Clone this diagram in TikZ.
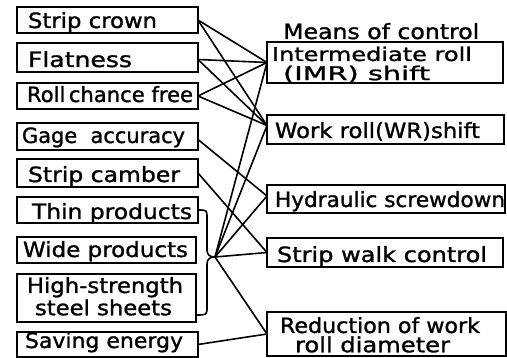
\documentclass[tikz,border=0pt]{standalone}
\usepackage{fontspec}
\setmainfont{DejaVu Sans}[FakeBold=1.2]
\usepackage{graphicx}
\newcommand{\fw}[2]{\resizebox{#1}{\height}{#2}}
\begin{document}
\begin{tikzpicture}[x=1pt,y=-1pt,
  box/.style={draw, line width=1.6pt, inner sep=0pt, outer sep=0pt, anchor=north west,
    font=\fontsize{21}{21}\selectfont},
  link/.style={line width=1.6pt, line join=round, line cap=round}]
\useasboundingbox (0,0) rectangle (507,358);
% left column: product targets
\node[box, minimum width=181pt, minimum height=26pt, text height=21pt, text depth=5pt] (crown) at (17,7)
  {\makebox[181pt][l]{\hspace{11pt}\fw{129pt}{Strip crown}}};
\node[box, minimum width=181pt, minimum height=29pt, text height=24pt, text depth=5pt] (flat) at (17,43)
  {\makebox[181pt][l]{\hspace{11pt}\fw{104pt}{Flatness}}};
\node[box, minimum width=181pt, minimum height=26pt, text height=19pt, text depth=7pt] (roll) at (17,83)
  {\makebox[181pt][l]{\hspace{10pt}\fw{166pt}{Roll\,chance free}}};
\node[box, minimum width=181pt, minimum height=27pt, text height=20pt, text depth=7pt] (gage) at (17,123)
  {\makebox[181pt][l]{\hspace{5pt}\fw{163pt}{Gage\ \ accuracy}}};
\node[box, minimum width=181pt, minimum height=28pt, text height=23pt, text depth=5pt] (camber) at (17,159)
  {\makebox[181pt][l]{\hspace{11pt}\fw{152pt}{Strip camber}}};
\node[box, minimum width=181pt, minimum height=26pt, text height=22pt, text depth=4pt] (thin) at (17,197)
  {\makebox[181pt][l]{\hspace{15pt}\fw{160pt}{Thin products}}};
\node[box, minimum width=179pt, minimum height=26pt, text height=20pt, text depth=6pt] (wide) at (17,237)
  {\makebox[179pt][l]{\hspace{6pt}\fw{165pt}{Wide products}}};
\node[box, minimum width=179pt, minimum height=48pt, text height=19pt, text depth=29pt] (high) at (17,274)
  {\makebox[179pt][l]{\hspace{10pt}\begin{tabular}[t]{@{}l@{}}\fw{156pt}{High-strength}\\[0pt]\hspace{8pt}\fw{137pt}{steel sheets}\end{tabular}}};
\node[box, minimum width=181pt, minimum height=25pt, text height=16pt, text depth=9pt] (save) at (17,332)
  {\makebox[181pt][l]{\hspace{8pt}\fw{158pt}{Saving energy}}};
% right column: means of control
\node[anchor=base west, inner sep=0pt, font=\fontsize{21}{21}\selectfont] (means) at (283,39)
  {\fw{196pt}{Means of control}};
\node[box, minimum width=236pt, minimum height=41pt, text height=19pt, text depth=22pt,
      font=\fontsize{19}{19}\selectfont] (imr) at (267,42)
  {\makebox[236pt][l]{\hspace{5pt}\begin{tabular}[t]{@{}l@{}}\fw{200pt}{Intermediate roll}\\[-1pt]\hspace{11pt}\fw{147pt}{(IMR) shift}\end{tabular}}};
\node[box, minimum width=237pt, minimum height=29pt, text height=23pt, text depth=6pt] (wr) at (267,115)
  {\makebox[237pt][l]{\hspace{8pt}\fw{205pt}{Work roll(WR)shift}}};
\node[box, minimum width=238pt, minimum height=28pt, text height=22pt, text depth=6pt] (hyd) at (267,185)
  {\makebox[238pt][l]{\hspace{8pt}\fw{230pt}{Hydraulic screwdown}}};
\node[box, minimum width=236pt, minimum height=29pt, text height=24pt, text depth=5pt] (walk) at (267,238)
  {\makebox[236pt][l]{\hspace{10pt}\fw{210pt}{Strip walk control}}};
\node[box, minimum width=239pt, minimum height=44pt, text height=21pt, text depth=23pt] (red) at (267,312)
  {\makebox[239pt][l]{\hspace{13pt}\begin{tabular}[t]{@{}l@{}}\fw{200pt}{Reduction of work}\\[-3pt]\hspace{15pt}\fw{155pt}{roll diameter}\end{tabular}}};
% brace joining thin / wide / high-strength
\coordinate (fan) at (215,257);
\draw[link] (thin.east) .. controls (207,210) .. (207,218) -- (207,250)
  .. controls (207,255) and (210,257) .. (fan)
  .. controls (210,257) and (207,259) .. (207,264) -- (207,307)
  .. controls (207,315) .. ([yshift=-17pt]high.east);
% connectors
\draw[link] (crown.east) -- (imr.west);
\draw[link] (crown.east) -- ([yshift=4pt]wr.west);
\draw[link] ([yshift=-2pt]flat.east) -- (imr.west);
\draw[link] ([yshift=-2pt]flat.east) -- ([yshift=4pt]wr.west);
\draw[link] (roll.east) -- (imr.west);
\draw[link] (roll.east) -- ([yshift=4pt]wr.west);
\draw[link] ([yshift=-3pt]gage.east) -- ([yshift=3pt]hyd.west);
\draw[link] (camber.east) -- (walk.west);
\draw[link] (fan) -- (imr.west);
\draw[link] (fan) -- ([yshift=4pt]wr.west);
\draw[link] (fan) -- ([yshift=3pt]hyd.west);
\draw[link] (fan) -- (walk.west);
\draw[link] (fan) -- (red.west);
\draw[link] (save.east) -- (red.west);
\end{tikzpicture}
\end{document}
